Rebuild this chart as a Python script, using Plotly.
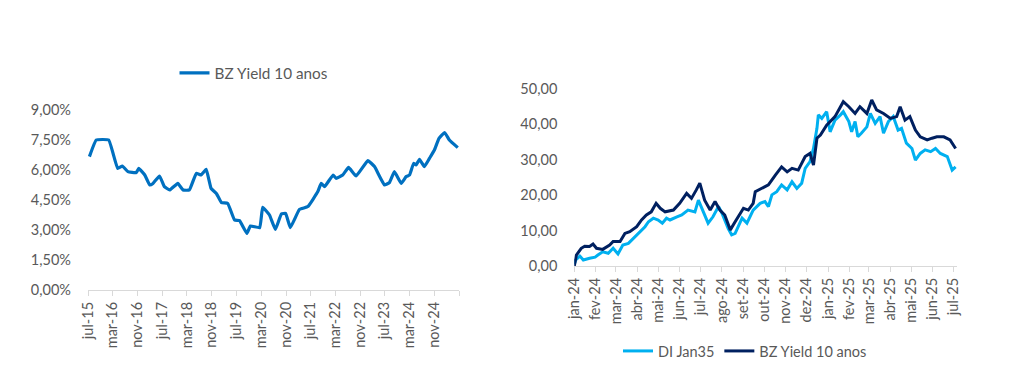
import plotly.graph_objects as go

# ---------- Left chart: BZ Yield 10 anos (%) ----------
left_dates = [
    "2015-07-15", "2015-09-20", "2016-01-21", "2016-04-18", "2016-06-03", "2016-07-28",
    "2016-10-18", "2016-11-12", "2017-01-10", "2017-02-28", "2017-04-01", "2017-06-04",
    "2017-07-22", "2017-09-12", "2017-12-01", "2018-01-22", "2018-03-25", "2018-06-01",
    "2018-07-19", "2018-09-07", "2018-10-25", "2018-12-16", "2019-02-04", "2019-04-07",
    "2019-06-13", "2019-08-01", "2019-10-13", "2019-11-16", "2020-02-16", "2020-03-16",
    "2020-05-22", "2020-07-19", "2020-09-16", "2020-10-28", "2020-12-13", "2021-03-13",
    "2021-06-04", "2021-09-10", "2021-10-13", "2021-11-16", "2022-02-07", "2022-03-10",
    "2022-05-13", "2022-07-10", "2022-09-22", "2023-01-16", "2023-03-22", "2023-06-28",
    "2023-08-16", "2023-10-04", "2023-12-10", "2024-01-28", "2024-03-01", "2024-04-10",
    "2024-05-04", "2024-06-07", "2024-07-25", "2024-09-13", "2024-11-01", "2024-12-16",
    "2025-02-10", "2025-03-28", "2025-06-19",
]
left_yield = [
    6.67, 7.50, 7.50, 6.08, 6.20, 5.92,
    5.87, 6.08, 5.75, 5.25, 5.33, 5.70,
    5.17, 5.00, 5.33, 5.00, 5.00, 5.83,
    5.75, 6.03, 5.08, 4.83, 4.37, 4.33,
    3.50, 3.47, 2.83, 3.20, 3.12, 4.13,
    3.75, 3.03, 3.80, 3.83, 3.12, 4.03,
    4.17, 4.92, 5.33, 5.17, 5.75, 5.58,
    5.75, 6.13, 5.70, 6.47, 6.17, 5.25,
    5.37, 5.92, 5.33, 5.67, 5.75, 6.33,
    6.25, 6.53, 6.17, 6.58, 7.00, 7.58,
    7.87, 7.50, 7.12,
]
left_tick_dates = [
    "2015-07-01", "2016-03-01", "2016-11-01", "2017-07-01", "2018-03-01", "2018-11-01",
    "2019-07-01", "2020-03-01", "2020-11-01", "2021-07-01", "2022-03-01", "2022-11-01",
    "2023-07-01", "2024-03-01", "2024-11-01", "2025-07-01",
]
left_tick_text = [
    "jul-15", "mar-16", "nov-16", "jul-17", "mar-18", "nov-18",
    "jul-19", "mar-20", "nov-20", "jul-21", "mar-22", "nov-22",
    "jul-23", "mar-24", "nov-24", "",
]
left_y_ticks = [0, 1.5, 3, 4.5, 6, 7.5, 9]
left_y_text = ["0,00%", "1,50%", "3,00%", "4,50%", "6,00%", "7,50%", "9,00%"]

# ---------- Right chart: DI Jan35 vs BZ Yield 10 anos ----------
bz_dates = [
    "2024-01-01", "2024-01-04", "2024-01-11", "2024-01-16", "2024-01-23", "2024-01-28",
    "2024-02-02", "2024-02-11", "2024-02-21", "2024-02-26", "2024-03-07", "2024-03-14",
    "2024-03-21", "2024-03-31", "2024-04-07", "2024-04-14", "2024-04-21", "2024-04-28",
    "2024-05-04", "2024-05-11", "2024-05-23", "2024-06-01", "2024-06-11", "2024-06-18",
    "2024-06-25", "2024-06-30", "2024-07-07", "2024-07-15", "2024-07-22", "2024-07-29",
    "2024-08-05", "2024-08-13", "2024-08-20", "2024-09-01", "2024-09-08", "2024-09-15",
    "2024-09-18", "2024-09-27", "2024-10-07", "2024-10-17", "2024-10-26", "2024-11-03",
    "2024-11-10", "2024-11-19", "2024-11-29", "2024-12-06", "2024-12-11", "2024-12-16",
    "2024-12-21", "2024-12-30", "2025-01-11", "2025-01-23", "2025-01-31", "2025-02-09",
    "2025-02-16", "2025-02-26", "2025-03-05", "2025-03-12", "2025-03-22", "2025-04-01",
    "2025-04-10", "2025-04-15", "2025-04-22", "2025-04-29", "2025-05-07", "2025-05-14",
    "2025-05-24", "2025-05-31", "2025-06-07", "2025-06-17", "2025-06-26", "2025-07-04",
]
bz_values = [
    0.0, 3.1, 5.0, 5.6, 5.5, 6.2,
    5.0, 4.7, 5.9, 6.9, 6.9, 9.2,
    9.7, 11.1, 13.0, 14.4, 15.3, 17.7,
    16.3, 15.3, 15.8, 17.7, 20.5, 19.1,
    21.5, 23.4, 18.6, 15.8, 18.2, 15.8,
    14.4, 10.2, 12.5, 16.3, 15.8, 17.7,
    21.0, 21.9, 22.9, 25.7, 28.0, 26.6,
    27.6, 27.1, 30.9, 31.8, 28.5, 36.1,
    37.0, 39.8, 42.2, 46.4, 45.0, 43.1,
    45.0, 43.1, 46.9, 44.1, 43.1, 41.7,
    42.2, 45.0, 41.2, 42.2, 38.4, 36.5,
    35.6, 36.1, 36.5, 36.5, 35.6, 33.2,
]
di_dates = [
    "2024-01-01", "2024-01-03", "2024-01-09", "2024-01-14", "2024-01-23", "2024-01-31",
    "2024-02-04", "2024-02-11", "2024-02-19", "2024-02-26", "2024-03-04", "2024-03-11",
    "2024-03-19", "2024-03-26", "2024-04-02", "2024-04-07", "2024-04-12", "2024-04-17",
    "2024-04-24", "2024-05-01", "2024-05-07", "2024-05-13", "2024-05-18", "2024-05-28",
    "2024-06-04", "2024-06-13", "2024-06-23", "2024-06-28", "2024-07-07", "2024-07-12",
    "2024-07-19", "2024-07-27", "2024-08-01", "2024-08-10", "2024-08-15", "2024-08-20",
    "2024-08-30", "2024-09-06", "2024-09-15", "2024-09-25", "2024-10-02", "2024-10-07",
    "2024-10-12", "2024-10-19", "2024-10-26", "2024-11-03", "2024-11-10", "2024-11-17",
    "2024-11-24", "2024-11-29", "2024-12-06", "2024-12-11", "2024-12-16", "2024-12-18",
    "2024-12-23", "2024-12-30", "2025-01-04", "2025-01-11", "2025-01-19", "2025-01-23",
    "2025-01-31", "2025-02-04", "2025-02-09", "2025-02-13", "2025-02-18", "2025-02-26",
    "2025-03-03", "2025-03-10", "2025-03-17", "2025-03-22", "2025-03-29", "2025-04-05",
    "2025-04-12", "2025-04-17", "2025-04-24", "2025-05-02", "2025-05-07", "2025-05-14",
    "2025-05-21", "2025-05-29", "2025-06-05", "2025-06-12", "2025-06-22", "2025-06-29",
    "2025-07-04",
]
di_values = [
    0.5, 1.7, 2.8, 1.7, 2.2, 2.5,
    3.1, 4.0, 3.6, 5.0, 3.4, 5.9,
    6.4, 7.8, 9.2, 10.2, 11.1, 12.5,
    13.5, 13.0, 12.1, 13.5, 13.0, 13.9,
    14.4, 15.8, 15.3, 18.6, 14.4, 12.1,
    13.9, 16.8, 14.9, 10.6, 8.8, 9.2,
    13.5, 12.1, 15.8, 17.7, 18.2, 16.8,
    20.1, 21.0, 22.9, 21.5, 23.8, 21.9,
    23.4, 27.6, 29.5, 33.2, 38.9, 42.7,
    41.7, 43.6, 37.9, 41.2, 42.7, 43.6,
    40.8, 37.9, 40.8, 36.5, 37.5, 39.3,
    43.1, 40.3, 42.2, 37.5, 40.8, 42.2,
    38.4, 38.9, 34.7, 33.2, 29.9, 31.8,
    32.8, 32.3, 33.2, 31.8, 30.9, 27.1,
    28.0,
]
right_tick_dates = [
    "2024-01-01", "2024-02-01", "2024-03-01", "2024-04-01", "2024-05-01", "2024-06-01",
    "2024-07-01", "2024-08-01", "2024-09-01", "2024-10-01", "2024-11-01", "2024-12-01",
    "2025-01-01", "2025-02-01", "2025-03-01", "2025-04-01", "2025-05-01", "2025-06-01",
    "2025-07-01",
]
right_tick_text = [
    "jan-24", "fev-24", "mar-24", "abr-24", "mai-24", "jun-24",
    "jul-24", "ago-24", "set-24", "out-24", "nov-24", "dez-24",
    "jan-25", "fev-25", "mar-25", "abr-25", "mai-25", "jun-25",
    "jul-25",
]
right_y_ticks = [0, 10, 20, 30, 40, 50]
right_y_text = ["0,00", "10,00", "20,00", "30,00", "40,00", "50,00"]

GRAY = "#595959"
AXIS = "#d9d9d9"
FONT = "Lato"
FS = 14.5

fig = go.Figure()
fig.add_trace(go.Scatter(
    x=left_dates, y=left_yield, mode="lines", name="BZ Yield 10 anos",
    line=dict(color="#0070c0", width=3.2, shape="spline", smoothing=0.3),
    xaxis="x", yaxis="y", legend="legend", showlegend=True,
))
fig.add_trace(go.Scatter(
    x=di_dates, y=di_values, mode="lines", name="DI Jan35",
    line=dict(color="#00b0f0", width=3),
    xaxis="x2", yaxis="y2", legend="legend2", showlegend=True,
))
fig.add_trace(go.Scatter(
    x=bz_dates, y=bz_values, mode="lines", name="BZ Yield 10 anos",
    line=dict(color="#002060", width=3),
    xaxis="x2", yaxis="y2", legend="legend2", showlegend=True,
))

W, H = 1024, 387

def px_x(a, b):
    return [a / W, b / W]

def px_y(top, bottom):
    return [(H - bottom) / H, (H - top) / H]

tickfont = dict(family=FONT, size=FS, color=GRAY)

fig.update_layout(
    width=W, height=H,
    margin=dict(l=0, r=0, t=0, b=0, autoexpand=False),
    paper_bgcolor="white", plot_bgcolor="white",
    separators=",.",
    font=dict(family=FONT, size=FS, color=GRAY),
    hovermode=False,
    showlegend=True,
    xaxis=dict(
        domain=px_x(88, 459), type="date",
        range=["2015-07-01", "2025-07-01"],
        tickmode="array", tickvals=left_tick_dates, ticktext=left_tick_text,
        tickangle=-90, tickfont=tickfont,
        showline=True, linecolor=AXIS, linewidth=1.3,
        ticks="outside", tickcolor=AXIS, ticklen=5, tickwidth=1.3,
        showgrid=False, zeroline=False, anchor="y", automargin=False,
    ),
    yaxis=dict(
        domain=px_y(110, 290), range=[0, 9.0],
        tickmode="array", tickvals=left_y_ticks, ticktext=left_y_text,
        tickfont=tickfont,
        showgrid=False, zeroline=False, showline=False, ticks="",
        ticklabelstandoff=16, anchor="x", automargin=False,
    ),
    xaxis2=dict(
        domain=px_x(574.3, 957), type="date",
        range=["2024-01-01", "2025-07-06"],
        tickmode="array", tickvals=right_tick_dates, ticktext=right_tick_text,
        tickangle=-90, tickfont=tickfont,
        showline=True, linecolor=AXIS, linewidth=1.3,
        ticks="outside", tickcolor=AXIS, ticklen=5, tickwidth=1.3,
        showgrid=False, zeroline=False, anchor="y2", automargin=False,
    ),
    yaxis2=dict(
        domain=px_y(89, 266), range=[0, 50],
        tickmode="array", tickvals=right_y_ticks, ticktext=right_y_text,
        tickfont=tickfont,
        showgrid=False, zeroline=False, showline=False, ticks="",
        ticklabelstandoff=16, anchor="x2", automargin=False,
    ),
    legend=dict(
        x=254 / W, y=(H - 73) / H, xanchor="center", yanchor="middle",
        orientation="h", font=dict(family=FONT, size=15.3, color=GRAY),
        bgcolor="rgba(0,0,0,0)", itemwidth=30,
    ),
    legend2=dict(
        x=745 / W, y=(H - 351) / H, xanchor="center", yanchor="middle",
        orientation="h", font=dict(family=FONT, size=FS, color=GRAY),
        bgcolor="rgba(0,0,0,0)", itemwidth=30,
    ),
)

fig.write_html(
    "out.html",
    config={"displayModeBar": False},
    post_script="document.body.style.margin='0';document.body.style.padding='0';",
)
